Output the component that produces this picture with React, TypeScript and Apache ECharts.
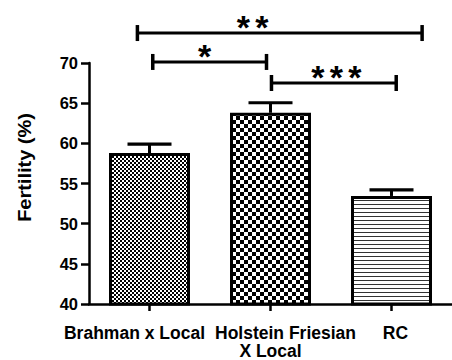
import React, { useEffect, useRef } from 'react';
import * as echarts from 'echarts';

// ---- data ----
const categories = ['Brahman x Local', 'Holstein Friesian\nX Local', 'RC'];
const means = [58.8, 63.8, 53.45];
const upperErrors = [59.9, 65.05, 54.2];
const yAxisName = 'Fertility (%)';

// significance brackets (x in category-index units, level in y units)
const bracketFrom = [-0.1, 0.027, 1.008];
const bracketTo = [2.253, 0.967, 2.039];
const bracketLevel = [73.73, 70.13, 67.51];
const bracketLabelX = [0.852, 0.456, 1.544];
const bracketStars = ['**', '*', '***'];

const FONT = '"Liberation Sans", Arial, Helvetica, sans-serif';

function makePattern(kind: string) {
  const c = document.createElement('canvas');
  let w = 4, h = 4;
  if (kind === 'coarse') { w = 8; h = 8; }
  c.width = w; c.height = h;
  const ctx = c.getContext('2d')!;
  ctx.fillStyle = '#ffffff';
  ctx.fillRect(0, 0, w, h);
  if (kind === 'fine') {
    ctx.fillStyle = '#000000';
    ctx.fillRect(0, 0, 2, 2);
    ctx.fillRect(2, 2, 2, 2);
  } else if (kind === 'coarse') {
    ctx.fillStyle = '#000000';
    ctx.fillRect(0, 0, 4, 4);
    ctx.fillRect(4, 4, 4, 4);
  } else {
    ctx.fillStyle = '#333333';
    ctx.fillRect(0, 0, 4, 1);
  }
  return { image: c, repeat: 'repeat', imageWidth: w, imageHeight: h } as any;
}

function blackRect(x: number, y: number, w: number, h: number) {
  return { type: 'rect', shape: { x, y, width: w, height: h }, style: { fill: '#000' } };
}

export default function App() {
  const ref = useRef<HTMLDivElement>(null);
  useEffect(() => {
    document.body.style.margin = '0';
    const chart = echarts.init(ref.current!, null, { renderer: 'svg' });
    const patterns = [makePattern('fine'), makePattern('coarse'), makePattern('stripes')];
    const labelPad: number[][] = [[0, 30, 0, 0], [0, 0, 0, 30], [0, 0, 0, 8]];
    const rich: any = {};
    labelPad.forEach((p, i) => {
      rich['a' + i] = { fontSize: 17.5, fontWeight: 'bold', fontFamily: FONT, color: '#000', lineHeight: 18, padding: p };
    });
    rich.plain = { fontSize: 17.5, fontWeight: 'bold', fontFamily: FONT, color: '#000', lineHeight: 18 };

    chart.setOption({
      animation: false,
      backgroundColor: '#fff',
      grid: { left: 89, top: 63, width: 364, height: 241, containLabel: false },
      xAxis: [
        {
          type: 'category',
          data: categories,
          axisLine: { show: true, onZero: false, lineStyle: { color: '#000', width: 2.5 } },
          axisTick: { show: true, alignWithLabel: true, length: 7, lineStyle: { color: '#000', width: 2.5 } },
          axisLabel: {
            interval: 0,
            margin: 20,
            formatter: (v: string, i: number) => {
              const lines = v.split('\n');
              return lines.map((l, k) => (k === 0 ? `{a${i}|${l}}` : `{plain|${l}}`)).join('\n');
            },
            rich,
          },
          splitLine: { show: false },
        },
        { type: 'value', min: -0.5, max: 2.5, show: false, axisLine: { onZero: false } },
      ],
      yAxis: {
        type: 'value',
        min: 40,
        max: 70,
        interval: 5,
        axisLine: { show: true, onZero: false, lineStyle: { color: '#000', width: 2.5 } },
        axisTick: { show: true, length: 8, lineStyle: { color: '#000', width: 2.5 } },
        axisLabel: { margin: 11, fontSize: 16.5, fontWeight: 'bold', fontFamily: FONT, color: '#000' },
        splitLine: { show: false },
      },
      graphic: [
        {
          type: 'text',
          x: 24.5,
          y: 167.5,
          rotation: Math.PI / 2,
          scaleX: 1.11,
          style: { text: yAxisName, fontSize: 18, fontWeight: 'bold', fontFamily: FONT, fill: '#000', align: 'center', verticalAlign: 'middle' },
        },
      ],
      series: [
        {
          type: 'bar',
          barWidth: 81,
          data: means.map((m, i) => ({ value: m, itemStyle: { color: patterns[i] } })),
          itemStyle: { borderColor: '#000', borderWidth: 3 },
          z: 2,
        },
        {
          type: 'custom',
          xAxisIndex: 0,
          clip: false,
          z: 3,
          data: means.map((m, i) => [i, m, upperErrors[i]]),
          renderItem: (params: any, api: any) => {
            const x = api.value(0);
            const top = api.coord([x, api.value(2)]);
            const base = api.coord([x, api.value(1)]);
            const half = 22;
            const t = 3.2;
            return {
              type: 'group',
              children: [
                blackRect(top[0] - 1.5, top[1], 3, base[1] - top[1]),
                blackRect(top[0] - half, top[1] - t / 2, half * 2, t),
              ],
            };
          },
        },
        {
          type: 'custom',
          xAxisIndex: 1,
          clip: false,
          z: 4,
          data: bracketFrom.map((f, i) => [f, bracketLevel[i], bracketTo[i], bracketLabelX[i]]),
          renderItem: (params: any, api: any) => {
            const y = api.value(1);
            const p1 = api.coord([api.value(0), y]);
            const p2 = api.coord([api.value(2), y]);
            const pc = api.coord([api.value(3), y]);
            const stars = bracketStars[params.dataIndex];
            const n = stars.length;
            const gap = 18.5;
            const children: any[] = [
              blackRect(p1[0], p1[1] - 1.5, p2[0] - p1[0], 3),
              blackRect(p1[0] - 1.75, p1[1] - 8, 3.5, 16),
              blackRect(p2[0] - 1.75, p2[1] - 8, 3.5, 16),
            ];
            for (let k = 0; k < n; k++) {
              children.push({
                type: 'text',
                x: pc[0] + (k - (n - 1) / 2) * gap,
                y: pc[1] - 6,
                style: { text: '*', fontSize: 34, fontWeight: 'bold', fontFamily: FONT, fill: '#000', align: 'center', verticalAlign: 'middle' },
              });
            }
            return { type: 'group', children };
          },
        },
      ],
    });
    return () => chart.dispose();
  }, []);
  return <div ref={ref} style={{ width: 452, height: 360 }} />;
}
